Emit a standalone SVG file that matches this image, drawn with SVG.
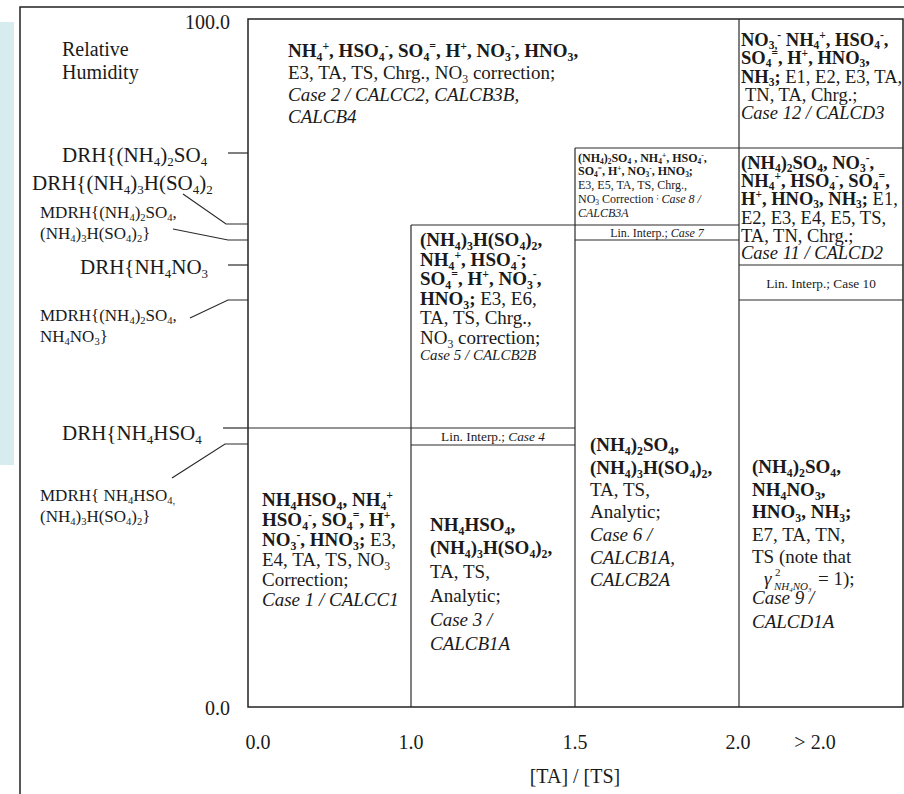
<svg xmlns="http://www.w3.org/2000/svg" width="904" height="794" viewBox="0 0 904 794">
<style>
.t{font-family:"Liberation Serif","Times New Roman",serif;fill:#1a1a1a}
.b{font-weight:bold}
.i{font-style:italic}
.sub{font-size:62%;baseline-shift:-0.3em}
.sup{font-size:62%;baseline-shift:0.6em}
.ln{stroke:#2a2a2a;stroke-width:1.2;fill:none}
.fr{stroke:#222;stroke-width:1.5;fill:none}
.f19{font-size:19px}
.f185{font-size:18.5px}
.f21{font-size:21px}
.f20{font-size:20px}
.f17{font-size:17px}
.f15{font-size:15px}
.f12{font-size:12px}
.f13{font-size:13.3px}
</style>
<rect width="904" height="794" fill="#fff"/>
<rect x="0" y="22" width="14" height="443" fill="#d6ecef"/>
<rect x="20" y="7" width="900" height="800" class="fr"/>

<g id="grid">
<rect x="248" y="19" width="655" height="688" class="fr"/>
<line x1="411" y1="225" x2="411" y2="707" class="ln"/>
<line x1="575" y1="148" x2="575" y2="707" class="ln"/>
<line x1="739" y1="19" x2="739" y2="707" class="ln"/>
<line x1="248" y1="428" x2="575" y2="428" class="ln"/>
<line x1="411" y1="445" x2="575" y2="445" class="ln"/>
<line x1="411" y1="225" x2="739" y2="225" class="ln"/>
<line x1="575" y1="240" x2="739" y2="240" class="ln"/>
<line x1="575" y1="148" x2="903" y2="148" class="ln"/>
<line x1="739" y1="265" x2="903" y2="265" class="ln"/>
<line x1="739" y1="300" x2="903" y2="300" class="ln"/>
</g>

<g id="axis" class="t f20">
<text x="230" y="29" text-anchor="end">100.0</text>
<text x="230" y="715" text-anchor="end">0.0</text>
<text x="62" y="56">Relative</text>
<text x="62" y="79">Humidity</text>
<text x="258" y="749" text-anchor="middle">0.0</text>
<text x="411" y="749" text-anchor="middle">1.0</text>
<text x="575" y="749" text-anchor="middle">1.5</text>
<text x="738" y="749" text-anchor="middle">2.0</text>
<text x="815" y="749" text-anchor="middle">&gt; 2.0</text>
<text x="575" y="783" text-anchor="middle">[TA] / [TS]</text>
</g>

<g id="labels" class="t">
<text class="f21" x="62" y="162">DRH{(NH<tspan class="sub">4</tspan>)<tspan class="sub">2</tspan>SO<tspan class="sub">4</tspan></text>
<text class="f21" x="32" y="190">DRH{(NH<tspan class="sub">4</tspan>)<tspan class="sub">3</tspan>H(SO<tspan class="sub">4</tspan>)<tspan class="sub">2</tspan></text>
<text class="f17" x="40" y="218">MDRH{(NH<tspan class="sub">4</tspan>)<tspan class="sub">2</tspan>SO<tspan class="sub">4</tspan>,</text>
<text class="f17" x="40" y="239">(NH<tspan class="sub">4</tspan>)<tspan class="sub">3</tspan>H(SO<tspan class="sub">4</tspan>)<tspan class="sub">2</tspan>}</text>
<text class="f21" x="80" y="274">DRH{NH<tspan class="sub">4</tspan>NO<tspan class="sub">3</tspan></text>
<text class="f17" x="40" y="321">MDRH{(NH<tspan class="sub">4</tspan>)<tspan class="sub">2</tspan>SO<tspan class="sub">4</tspan>,</text>
<text class="f17" x="40" y="342">NH<tspan class="sub">4</tspan>NO<tspan class="sub">3</tspan>}</text>
<text class="f21" x="62" y="440">DRH{NH<tspan class="sub">4</tspan>HSO<tspan class="sub">4</tspan></text>
<text class="f17" x="40" y="501">MDRH{ NH<tspan class="sub">4</tspan>HSO<tspan class="sub">4,</tspan></text>
<text class="f17" x="40" y="522">(NH<tspan class="sub">4</tspan>)<tspan class="sub">3</tspan>H(SO<tspan class="sub">4</tspan>)<tspan class="sub">2</tspan>}</text>
</g>

<g id="connectors">
<line x1="228" y1="153" x2="248" y2="153" class="ln"/>
<polyline points="183,194 226,224 248,224" class="ln"/>
<polyline points="173,229 228,240 248,240" class="ln"/>
<line x1="228" y1="265" x2="248" y2="265" class="ln"/>
<polyline points="190,318 228,300 248,300" class="ln"/>
<line x1="223" y1="428" x2="248" y2="428" class="ln"/>
<polyline points="172,478 225,444 248,444" class="ln"/>
</g>

<g id="case2" class="t f19">
<text x="288" y="57" class="b">NH<tspan class="sub">4</tspan><tspan class="sup">+</tspan>, HSO<tspan class="sub">4</tspan><tspan class="sup">-</tspan>, SO<tspan class="sub">4</tspan><tspan class="sup">=</tspan>, H<tspan class="sup">+</tspan>, NO<tspan class="sub">3</tspan><tspan class="sup">-</tspan>, HNO<tspan class="sub">3</tspan>,</text>
<text x="288" y="79">E3, TA, TS, Chrg., NO<tspan class="sub">3</tspan> correction;</text>
<text x="288" y="101" class="i">Case 2 / CALCC2, CALCB3B,</text>
<text x="288" y="123" class="i">CALCB4</text>
</g>

<g id="case12" class="t f185">
<text x="741" y="46" class="b">NO<tspan class="sub">3,</tspan><tspan class="sup">-</tspan> NH<tspan class="sub">4</tspan><tspan class="sup">+</tspan>, HSO<tspan class="sub">4</tspan><tspan class="sup">-</tspan>,</text>
<text x="741" y="64" class="b">SO<tspan class="sub">4</tspan><tspan class="sup">=</tspan>, H<tspan class="sup">+</tspan>, HNO<tspan class="sub">3</tspan>,</text>
<text x="741" y="83"><tspan class="b">NH<tspan class="sub">3</tspan>;</tspan>  E1, E2, E3, TA,</text>
<text x="745" y="101">TN, TA, Chrg.;</text>
<text x="741" y="119" class="i">Case 12 / CALCD3</text>
</g>

<g id="case8" class="t f12">
<text x="578" y="162" class="b">(NH<tspan class="sub">4</tspan>)<tspan class="sub">2</tspan>SO<tspan class="sub">4</tspan> , NH<tspan class="sub">4</tspan><tspan class="sup">+</tspan>, HSO<tspan class="sub">4</tspan><tspan class="sup">-</tspan>,</text>
<text x="578" y="175" class="b">SO<tspan class="sub">4</tspan><tspan class="sup">=</tspan>,  H<tspan class="sup">+</tspan>, NO<tspan class="sub">3</tspan><tspan class="sup">-</tspan>, HNO<tspan class="sub">3</tspan>;</text>
<text x="578" y="189">E3, E5, TA, TS, Chrg.,</text>
<text x="578" y="203">NO<tspan class="sub">3</tspan> Correction <tspan class="sup">;</tspan> <tspan class="i">Case 8 /</tspan></text>
<text x="578" y="217" class="i">CALCB3A</text>
</g>

<g id="case7" class="t f12">
<text x="657" y="237" text-anchor="middle">Lin. Interp.; <tspan class="i">Case 7</tspan></text>
</g>

<g id="case11" class="t f185">
<text x="741" y="169" class="b">(NH<tspan class="sub">4</tspan>)<tspan class="sub">2</tspan>SO<tspan class="sub">4</tspan>, NO<tspan class="sub">3</tspan><tspan class="sup">-</tspan>,</text>
<text x="741" y="187" class="b">NH<tspan class="sub">4</tspan><tspan class="sup">+</tspan>, HSO<tspan class="sub">4</tspan><tspan class="sup">-</tspan>, SO<tspan class="sub">4</tspan><tspan class="sup">=</tspan>,</text>
<text x="741" y="205"><tspan class="b">H<tspan class="sup">+</tspan>, HNO<tspan class="sub">3</tspan>, NH<tspan class="sub">3</tspan>;</tspan> E1,</text>
<text x="741" y="224">E2, E3, E4, E5, TS,</text>
<text x="741" y="242">TA, TN, Chrg.;</text>
<text x="741" y="259" class="i">Case 11 / CALCD2</text>
</g>

<g id="case10" class="t f13">
<text x="821" y="288" text-anchor="middle">Lin. Interp.; Case 10</text>
</g>

<g id="case5" class="t f19">
<text x="420" y="246" class="b">(NH<tspan class="sub">4</tspan>)<tspan class="sub">3</tspan>H(SO<tspan class="sub">4</tspan>)<tspan class="sub">2</tspan>,</text>
<text x="420" y="265.5" class="b">NH<tspan class="sub">4</tspan><tspan class="sup">+</tspan>, HSO<tspan class="sub">4</tspan><tspan class="sup">-</tspan>;</text>
<text x="420" y="285" class="b">SO<tspan class="sub">4</tspan><tspan class="sup">=</tspan>,  H<tspan class="sup">+</tspan>, NO<tspan class="sub">3</tspan><tspan class="sup">-</tspan>,</text>
<text x="420" y="304.5"><tspan class="b">HNO<tspan class="sub">3</tspan>;</tspan> E3, E6,</text>
<text x="420" y="324">TA, TS, Chrg.,</text>
<text x="420" y="343.5">NO<tspan class="sub">3</tspan> correction;</text>
<text x="420" y="360" class="i f15">Case 5 / CALCB2B</text>
</g>

<g id="case4" class="t f13">
<text x="493" y="441" text-anchor="middle">Lin. Interp.; <tspan class="i">Case 4</tspan></text>
</g>

<g id="case1" class="t f19">
<text x="262" y="506" class="b">NH<tspan class="sub">4</tspan>HSO<tspan class="sub">4</tspan>, NH<tspan class="sub">4</tspan><tspan class="sup">+</tspan></text>
<text x="262" y="526" class="b">HSO<tspan class="sub">4</tspan><tspan class="sup">-</tspan>, SO<tspan class="sub">4</tspan><tspan class="sup">=</tspan>, H<tspan class="sup">+</tspan>,</text>
<text x="262" y="546"><tspan class="b">NO<tspan class="sub">3</tspan><tspan class="sup">-</tspan>,  HNO<tspan class="sub">3</tspan>;</tspan> E3,</text>
<text x="262" y="566">E4, TA, TS, NO<tspan class="sub">3</tspan></text>
<text x="262" y="586">Correction;</text>
<text x="262" y="606" class="i">Case 1 / CALCC1</text>
</g>

<g id="case3" class="t f19">
<text x="430" y="531" class="b">NH<tspan class="sub">4</tspan>HSO<tspan class="sub">4</tspan>,</text>
<text x="430" y="554" class="b">(NH<tspan class="sub">4</tspan>)<tspan class="sub">3</tspan>H(SO<tspan class="sub">4</tspan>)<tspan class="sub">2</tspan>,</text>
<text x="430" y="578">TA, TS,</text>
<text x="430" y="602">Analytic;</text>
<text x="430" y="626" class="i">Case 3 /</text>
<text x="430" y="650" class="i">CALCB1A</text>
</g>

<g id="case6" class="t f19">
<text x="590" y="451" class="b">(NH<tspan class="sub">4</tspan>)<tspan class="sub">2</tspan>SO<tspan class="sub">4</tspan>,</text>
<text x="590" y="474" class="b">(NH<tspan class="sub">4</tspan>)<tspan class="sub">3</tspan>H(SO<tspan class="sub">4</tspan>)<tspan class="sub">2</tspan>,</text>
<text x="590" y="496">TA, TS,</text>
<text x="590" y="518">Analytic;</text>
<text x="590" y="541" class="i">Case 6 /</text>
<text x="590" y="564" class="i">CALCB1A,</text>
<text x="590" y="586" class="i">CALCB2A</text>
</g>

<g id="case9" class="t f19">
<text x="752" y="473" class="b">(NH<tspan class="sub">4</tspan>)<tspan class="sub">2</tspan>SO<tspan class="sub">4</tspan>,</text>
<text x="752" y="496" class="b">NH<tspan class="sub">4</tspan>NO<tspan class="sub">3</tspan>,</text>
<text x="752" y="518" class="b">HNO<tspan class="sub">3</tspan>, NH<tspan class="sub">3</tspan>;</text>
<text x="752" y="541">E7, TA, TN,</text>
<text x="752" y="563">TS (note that</text>
<text x="764" y="585" class="i">γ</text>
<text x="775" y="576" font-size="11">2</text>
<text x="774" y="590" class="i" font-size="11">NH<tspan class="sub">4</tspan>NO<tspan class="sub">3</tspan></text>
<text x="818" y="585">= 1);</text>
<text x="752" y="604" class="i">Case 9 /</text>
<text x="752" y="628" class="i">CALCD1A</text>
</g>
</svg>
